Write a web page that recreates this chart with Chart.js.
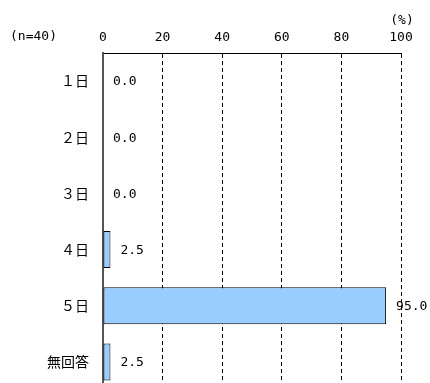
<!DOCTYPE html>
<html>
<head>
<meta charset="utf-8">
<script src="https://cdn.jsdelivr.net/npm/chart.js@4.4.1/dist/chart.umd.min.js"></script>
<style>
  html, body { margin: 0; padding: 0; overflow: hidden; background: #fff; }
</style>
</head>
<body>
<canvas id="barCanvas" width="430" height="390"></canvas>
<script>
const categories = ["１日", "２日", "３日", "４日", "５日", "無回答"];
const percents = [0.0, 0.0, 0.0, 2.5, 95.0, 2.5];
const tickValues = [0, 20, 40, 60, 80, 100];
const sampleNote = "(n=40)";
const unitNote = "(%)";

const monoFont = "'DejaVu Sans Mono', 'Liberation Mono', monospace";
const jpFont = "'Noto Sans CJK JP', sans-serif";

// value labels beside each bar + the two notes in the header
const labelPlugin = {
    id: "labels",
    afterDatasetsDraw(chart) {
        const ctx = chart.ctx;
        const meta = chart.getDatasetMeta(0);
        ctx.save();
        ctx.fillStyle = "#000";
        ctx.font = "13px " + monoFont;
        ctx.textAlign = "left";
        ctx.textBaseline = "middle";
        meta.data.forEach((bar, i) => {
            ctx.fillText(percents[i].toFixed(1), bar.x + 10, bar.y + 1);
        });
        ctx.fillText(sampleNote, 10, 37);
        ctx.textAlign = "center";
        ctx.fillText(unitNote, chart.scales.x.right + 1, 21);
        ctx.restore();
    }
};

const barChart = new Chart(document.getElementById("barCanvas"), {
    type: "bar",
    data: {
        labels: categories,
        datasets: [{
            data: percents,
            backgroundColor: "#99CCFF",
            borderColor: "#000",
            borderWidth: 1,
            borderSkipped: false,
            barPercentage: 0.66,
            categoryPercentage: 1.0
        }]
    },
    options: {
        indexAxis: "y",
        responsive: false,
        animation: false,
        layout: { padding: { left: 0, right: 29, top: 0, bottom: 0 } },
        scales: {
            x: {
                position: "top",
                min: 0,
                max: 100,
                afterBuildTicks: (scale) => {
                    scale.ticks = tickValues.map(v => ({ value: v }));
                },
                afterFit: (scale) => { scale.height = 53; },
                ticks: {
                    color: "#000",
                    padding: 8,
                    font: { family: monoFont, size: 13 }
                },
                grid: {
                    color: "#000",
                    lineWidth: 1,
                    drawTicks: false
                },
                border: {
                    display: true,
                    color: "#000",
                    width: 1,
                    dash: [4, 3]
                }
            },
            y: {
                afterFit: (scale) => {
                    scale.width = 103;
                    scale.paddingTop = 0;
                    scale.paddingBottom = 0;
                },
                ticks: {
                    color: "#000",
                    padding: 14,
                    font: { family: jpFont, size: 14 }
                },
                grid: { display: false, drawTicks: false },
                border: { display: true, color: "#555", width: 2 }
            }
        },
        plugins: {
            legend: { display: false },
            tooltip: { enabled: false }
        }
    },
    plugins: [labelPlugin]
});
</script>
</body>
</html>
